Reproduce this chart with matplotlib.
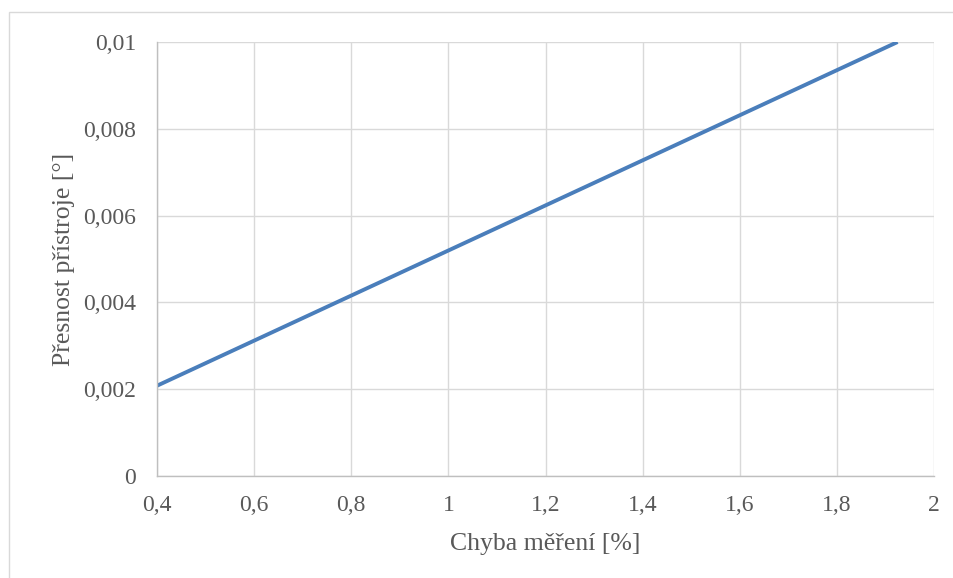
import matplotlib
matplotlib.use("Agg")
import matplotlib.pyplot as plt
from matplotlib.patches import Rectangle
from matplotlib.ticker import FuncFormatter

# Measurement error [%] vs. instrument precision [°]
chyba = [0.4, 1.925]
presnost = [0.00208, 0.0100]

x_ticks = [0.4, 0.6, 0.8, 1.0, 1.2, 1.4, 1.6, 1.8, 2.0]
y_ticks = [0, 0.002, 0.004, 0.006, 0.008, 0.01]

plt.rcParams['font.family'] = ['Liberation Serif', 'DejaVu Serif']

W, H = 954, 578
fig = plt.figure(figsize=(W / 100, H / 100), dpi=100)

# chart-area frame
fig.patches.append(Rectangle((9 / W, -0.1), 1.2, 1 - 12 / H + 0.1,
                             transform=fig.transFigure, fill=False,
                             edgecolor='#d9d9d9', linewidth=1.0))

left, right, top, bottom = 157, 934, 42, 476
ax = fig.add_axes([left / W, 1 - bottom / H, (right - left) / W, (bottom - top) / H])

ax.plot(chyba, presnost, color='#4a7ebb', linewidth=2.8, solid_capstyle='butt')

ax.set_xlim(0.4, 2.0)
ax.set_ylim(0, 0.01)
ax.set_xticks(x_ticks)
ax.set_yticks(y_ticks)


def cz(v, _pos=None):
    s = f"{v:.3f}".rstrip('0').rstrip('.')
    if s == '' or float(s) == 0:
        return '0'
    return s.replace('.', ',')


ax.xaxis.set_major_formatter(FuncFormatter(cz))
ax.yaxis.set_major_formatter(FuncFormatter(cz))

ax.grid(True, color='#d9d9d9', linewidth=1.0)
ax.set_axisbelow(True)
for side in ('top', 'right'):
    ax.spines[side].set_visible(False)
for side in ('left', 'bottom'):
    ax.spines[side].set_color('#bfbfbf')
    ax.spines[side].set_linewidth(1.0)

ax.tick_params(length=0, labelsize=17, colors='#595959')
ax.tick_params(axis='y', pad=15)
ax.tick_params(axis='x', pad=14)

ax.set_xlabel('Chyba měření [%]', fontsize=18.5, color='#595959', labelpad=12)
ax.set_ylabel('Přesnost přístroje [°]', fontsize=18.5, color='#595959', labelpad=6)

fig.savefig('out.png', dpi=100)
